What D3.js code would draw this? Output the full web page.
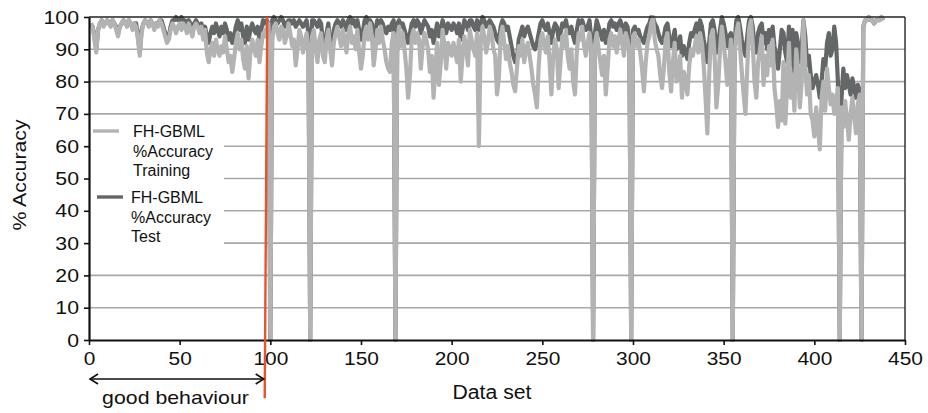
<!DOCTYPE html>
<html>
<head>
<meta charset="utf-8">
<script src="https://cdn.jsdelivr.net/npm/d3@7"></script>
<style>
  html, body { margin: 0; padding: 0; background: #fff; }
  svg { display: block; font-family: "Liberation Sans", Arial, sans-serif; }
</style>
</head>
<body>
<svg id="chart" width="928" height="413"></svg>
<script>
// FH-GBML accuracy per data set (index 1..438)
const training = [
  98,97,93,89,96,98,99,97,98,99,
  98,97,99,98,96,94,97,98,99,98,
  97,99,98,96,98,97,93,88,95,98,
  99,98,97,99,98,96,98,97,99,98,
  96,94,92,93,96,98,97,95,97,98,
  96,98,97,95,98,96,94,97,98,97,
  95,97,93,96,89,86,90,92,88,93,
  90,88,91,89,94,90,86,88,83,87,
  92,95,90,93,87,84,91,81,89,93,
  90,88,93,86,91,95,94,97,98,0,
  93,97,98,95,93,97,96,92,94,98,
  95,91,93,85,90,96,94,89,92,95,
  90,0,94,96,90,86,93,95,88,86,
  93,96,90,85,92,95,97,94,91,96,
  93,89,95,97,92,94,90,96,89,84,
  88,95,97,93,98,94,85,90,96,92,
  97,93,90,86,84,83,92,95,0,93,
  97,91,95,90,84,75,82,94,96,92,
  95,93,84,91,95,93,90,83,88,75,
  84,92,79,86,96,91,84,92,90,88,
  92,89,86,93,80,88,94,90,85,96,
  93,90,88,95,60,92,97,94,89,92,
  97,95,90,88,76,81,94,97,92,87,
  91,86,83,79,77,84,91,88,93,86,
  90,92,88,84,79,76,72,85,93,95,
  91,89,94,86,76,88,93,90,78,86,
  94,91,96,88,84,90,80,76,89,95,
  93,97,91,88,92,95,90,0,91,95,
  90,86,82,88,76,84,93,95,91,94,
  89,93,96,92,88,95,93,90,0,94,
  95,91,93,89,84,77,86,92,94,98,
  100,93,90,88,82,78,84,93,95,83,
  77,86,92,80,82,88,75,83,80,76,
  85,90,88,91,94,89,95,92,85,75,
  64,82,94,96,88,72,79,90,97,92,
  86,79,85,93,0,88,95,98,91,83,
  76,70,84,96,99,92,80,75,86,90,
  94,79,88,82,91,85,93,78,73,66,
  74,68,86,67,79,92,75,82,71,90,
  84,72,80,99,85,76,82,70,68,63,
  72,66,59,75,80,71,84,78,73,76,
  70,74,78,0,72,66,74,68,62,70,
  75,69,64,73,76,0,97,99,99,100,
  99,99,98,99,99,99,100,99
];

const test = [
  98,97,94,90,96,98,99,98,98,99,
  98,98,99,98,97,95,97,98,99,98,
  98,99,98,97,98,98,94,89,96,98,
  99,98,98,99,98,97,98,98,99,99,
  97,95,93,94,97,99,99,100,99,99,
  100,99,99,97,99,98,97,98,99,98,
  96,98,95,97,94,92,95,97,95,98,
  96,94,97,95,98,96,93,95,92,94,
  97,99,96,98,94,92,97,93,96,98,
  96,95,97,93,96,99,98,99,98,0,
  99,100,99,98,99,100,99,97,98,99,
  99,98,99,97,98,99,98,97,98,99,
  95,0,99,99,98,97,99,98,92,88,
  95,98,92,88,96,98,99,98,97,99,
  98,96,99,100,98,99,97,99,96,93,
  95,99,100,98,99,98,94,96,99,98,
  99,98,96,95,97,96,98,99,0,98,
  99,97,98,96,94,92,95,98,99,97,
  99,98,95,97,99,98,97,94,96,92,
  95,98,94,96,99,97,95,98,97,96,
  98,97,95,98,93,96,99,98,96,99,
  99,97,96,99,96,98,100,99,97,98,
  99,98,97,95,93,92,97,99,98,96,
  97,94,91,88,86,87,93,95,97,94,
  96,97,95,93,91,90,92,95,98,99,
  97,96,98,95,92,96,98,97,93,95,
  98,97,99,96,95,97,94,92,96,99,
  98,99,97,96,97,99,93,0,95,99,
  97,95,93,96,92,94,98,99,97,98,
  96,98,99,97,95,98,97,92,0,96,
  97,95,96,94,93,92,95,97,98,100,
  100,98,97,95,93,92,94,97,98,94,
  91,93,96,90,91,94,88,91,89,87,
  92,95,94,96,98,95,99,97,93,90,
  86,92,98,99,96,89,92,96,100,98,
  95,91,94,95,0,92,99,100,97,93,
  90,88,94,99,100,97,91,89,95,97,
  98,92,95,90,96,93,97,91,88,84,
  90,96,95,89,86,97,85,96,83,95,
  92,86,90,99,94,85,88,82,78,80,
  82,79,75,80,87,84,92,95,88,90,
  97,92,80,0,75,84,78,82,79,76,
  81,78,75,79,77,0,97,99,99,100,
  99,99,98,99,99,99,100,99
];

const xTicks = [0, 50, 100, 150, 200, 250, 300, 350, 400, 450];
const yTicks = [0, 10, 20, 30, 40, 50, 60, 70, 80, 90, 100];
const seriesNames = ["FH-GBML %Accuracy Training", "FH-GBML %Accuracy Test"];
const boundary = { top: 98.3, bottom: 96.9 };   // "good behaviour" limit

const COL_TRAIN = "#b3b3b3", COL_TEST = "#636767", COL_RED = "#e9532c";

const svg = d3.select("#chart");
const x = d3.scaleLinear().domain([0, 450]).range([89, 905]);
const y = d3.scaleLinear().domain([0, 100]).range([340, 17]);

// widen glyphs horizontally, as the axis lettering is drawn slightly stretched
function stretch(sel, k) {
  sel.each(function () {
    const w = this.getComputedTextLength();
    this.setAttribute("textLength", w * k);
    this.setAttribute("lengthAdjust", "spacingAndGlyphs");
  });
}

// horizontal gridlines
svg.append("g").selectAll("line")
  .data(yTicks.filter(v => v > 0 && v < 100))
  .join("line")
  .attr("x1", x(0)).attr("x2", x(450))
  .attr("y1", d => y(d)).attr("y2", d => y(d))
  .attr("stroke", "#a8a8a8").attr("stroke-width", 1.6);

// legend background hides the grid behind it
svg.append("rect")
  .attr("x", x(0) + 1).attr("y", 118).attr("width", 134).attr("height", 132)
  .attr("fill", "#fff");

// series
const line = d3.line().x((d, i) => x(i + 1)).y(d => y(d));
svg.append("path").datum(test)
  .attr("d", line).attr("fill", "none")
  .attr("stroke", COL_TEST).attr("stroke-width", 4.2)
  .attr("stroke-linejoin", "round");
svg.append("path").datum(training)
  .attr("d", line).attr("fill", "none")
  .attr("stroke", COL_TRAIN).attr("stroke-width", 4.2)
  .attr("stroke-linejoin", "round");

// frame: top and right edges
svg.append("line").attr("x1", x(0)).attr("x2", x(450)).attr("y1", y(100)).attr("y2", y(100))
  .attr("stroke", "#222").attr("stroke-width", 1.5);
svg.append("line").attr("x1", x(450)).attr("x2", x(450)).attr("y1", y(100)).attr("y2", y(0))
  .attr("stroke", "#333").attr("stroke-width", 1.5);

// axes
const gx = svg.append("g").attr("transform", `translate(0,${y(0)})`)
  .call(d3.axisBottom(x).tickValues(xTicks).tickSize(5).tickSizeOuter(0).tickPadding(6));
const gy = svg.append("g").attr("transform", `translate(${x(0)},0)`)
  .call(d3.axisLeft(y).tickValues(yTicks).tickSize(5).tickSizeOuter(0).tickPadding(5));
[gx, gy].forEach(g => {
  g.select(".domain").attr("stroke", "#111").attr("stroke-width", 2.2);
  g.selectAll(".tick line").attr("stroke", "#111").attr("stroke-width", 1.6);
  g.selectAll(".tick text").attr("fill", "#111")
    .style("font-size", "19px").style("font-family", "'Liberation Sans', Arial, sans-serif");
});
gx.selectAll(".tick text").attr("dy", "0.72em");
stretch(gx.selectAll(".tick text"), 1.1);
stretch(gy.selectAll(".tick text"), 1.12);

// axis titles
const xt = svg.append("text").attr("x", 492).attr("y", 399).attr("text-anchor", "middle")
  .style("font-size", "20px").attr("fill", "#111").text("Data set");
stretch(xt, 1.06);
const yt = svg.append("text").attr("transform", "translate(26,175) rotate(-90)")
  .attr("text-anchor", "middle").style("font-size", "19px").attr("fill", "#111").text("% Accuracy");
stretch(yt, 1.12);

// boundary of the well-behaved region
svg.append("line")
  .attr("x1", x(boundary.top)).attr("y1", y(100))
  .attr("x2", x(boundary.bottom)).attr("y2", y(-18))
  .attr("stroke", COL_RED).attr("stroke-width", 2.4);

// double-headed arrow spanning data sets 0..boundary
const ay = 379, ax1 = x(0) + 1, ax2 = x(boundary.bottom) - 1;
const arrow = svg.append("g").attr("stroke", "#111").attr("stroke-width", 1.6).attr("fill", "none");
arrow.append("line").attr("x1", ax1).attr("x2", ax2).attr("y1", ay).attr("y2", ay);
arrow.append("path").attr("d", `M${ax1 + 8},${ay - 5}L${ax1},${ay}L${ax1 + 8},${ay + 5}`);
arrow.append("path").attr("d", `M${ax2 - 8},${ay - 5}L${ax2},${ay}L${ax2 - 8},${ay + 5}`);
const gb = svg.append("text").attr("x", 175.5).attr("y", 404).attr("text-anchor", "middle")
  .style("font-size", "19px").attr("fill", "#111").text("good behaviour");
stretch(gb, 1.12);

// legend
const legend = svg.append("g").style("font-size", "16px").attr("fill", "#111");
const entries = [
  { name: seriesNames[0], color: COL_TRAIN, lx: 93, ly: 131, tx: 133, ty: 137 },
  { name: seriesNames[1], color: COL_TEST, lx: 97, ly: 197, tx: 131, ty: 203 }
];
entries.forEach(e => {
  legend.append("line").attr("x1", e.lx).attr("x2", e.lx + 26).attr("y1", e.ly).attr("y2", e.ly)
    .attr("stroke", e.color).attr("stroke-width", 3.4);
  const words = ["FH-GBML", "%Accuracy", e.name.split(" ").pop()];
  words.forEach((w, i) => {
    legend.append("text").attr("x", e.tx).attr("y", e.ty + i * 19.5).text(w);
  });
});
</script>
</body>
</html>
